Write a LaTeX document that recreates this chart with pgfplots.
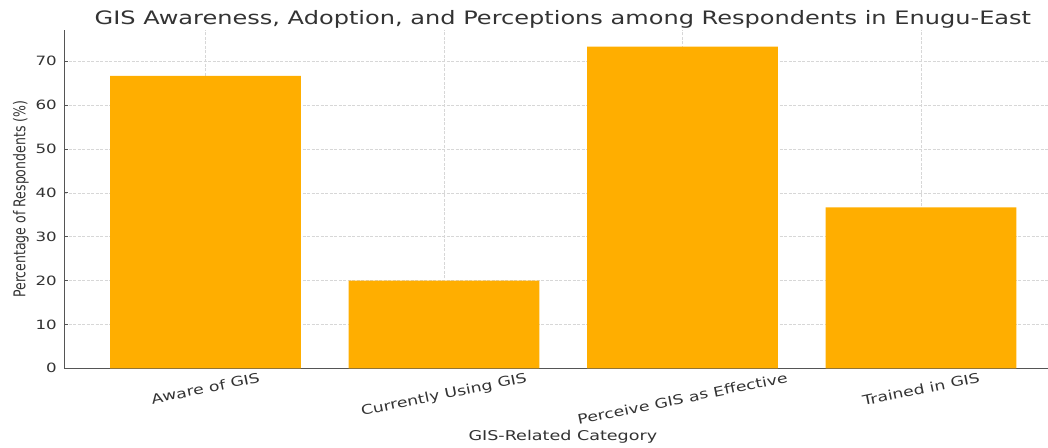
\documentclass[border=0pt]{standalone}
\usepackage{fontspec}
\setmainfont{DejaVu Sans}[FakeStretch=1.3]
\newfontfamily\ylabfont{DejaVu Sans}[FakeStretch=0.77]
\usepackage{graphicx}
\usepackage{pgfplots}
\pgfplotsset{compat=1.18}
\definecolor{barorange}{RGB}{255,174,0}
\definecolor{txt}{RGB}{51,51,51}
\definecolor{spine}{RGB}{85,85,85}
\definecolor{gridc}{RGB}{215,215,215}
\begin{document}
\begin{tikzpicture}
\begin{axis}[
  name=ax,
  scale only axis,
  width=997.7pt, height=338pt,
  xmin=-0.593, xmax=3.59, ymin=0, ymax=77.06,
  axis x line*=bottom, axis y line*=left,
  axis line style={-, spine, line width=1pt},
  xtick={0,1,2,3},
  xticklabels={\rotatebox{11.6}{Aware of GIS},\rotatebox{11.6}{Currently Using GIS},\rotatebox{11.6}{Perceive GIS as Effective},\rotatebox{11.6}{Trained in GIS}},
  ytick={0,10,20,30,40,50,60,70},
  tick align=inside,
  major tick length=4pt,
  tick style={spine, line width=0.8pt},
  grid=major,
  grid style={gridc, dash pattern=on 3pt off 1.5pt, line width=0.7pt},
  /pgf/number format/assume math mode=true,
  ticklabel style={font=\fontsize{12.8}{14}\selectfont, text=txt},
  xticklabel style={anchor=north, inner sep=0pt, yshift=-3.5pt, font=\fontsize{13.3}{15}\selectfont},
  yticklabel style={anchor=east, inner sep=0pt, xshift=-7pt},
  xlabel={GIS-Related Category},
  xlabel style={at={(axis description cs:0.5,0)}, anchor=base, yshift=-72pt, inner sep=0pt, font=\fontsize{13.5}{15}\selectfont, text=txt},
  ylabel={Percentage of Respondents (\%)},
  ylabel style={at={(axis description cs:-0.0514,0.5)}, anchor=north, inner sep=0pt, font=\ylabfont\fontsize{16.25}{18}\selectfont, text=txt},
  title={GIS Awareness, Adoption, and Perceptions among Respondents in Enugu-East},
  title style={at={(axis description cs:0.5,1)}, anchor=base, yshift=0pt, inner sep=0pt, font=\fontsize{18.5}{20}\selectfont, text=txt},
]
\addplot[ybar, bar width=0.8, bar shift=0pt, fill=barorange, draw=none]
  coordinates {(0,66.67) (1,20.00) (2,73.33) (3,36.67)};
\end{axis}
\pgfresetboundingbox
\path ([shift={(-64pt,-78.7pt)}]ax.south west) rectangle ([shift={(984pt,368.3pt)}]ax.south west);
\end{tikzpicture}
\end{document}
